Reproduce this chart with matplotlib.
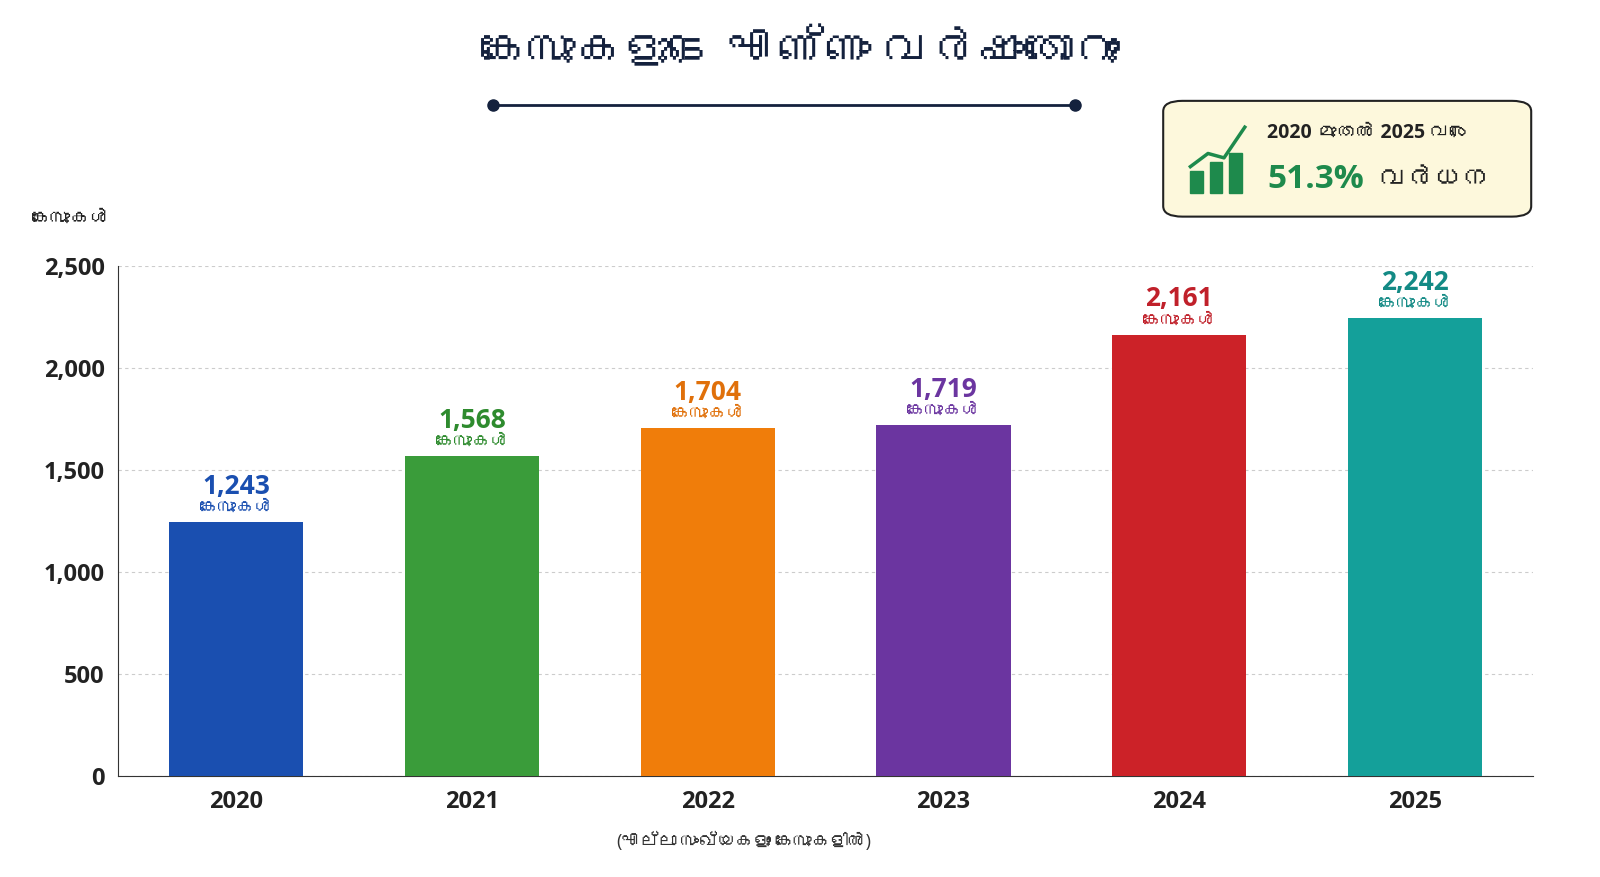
import matplotlib.pyplot as plt
from matplotlib.patches import FancyBboxPatch
from matplotlib import font_manager
from matplotlib.ft2font import FT2Font
import numpy as np

years = ["2020", "2021", "2022", "2023", "2024", "2025"]
cases = [1243, 1568, 1704, 1719, 2161, 2242]
colors = ["#1a4fb0", "#3a9c3a", "#f07d0a", "#6b35a0", "#cc2228", "#14a09a"]
label_colors = ["#1a4fb0", "#2e8b2e", "#e0700a", "#6b35a0", "#c0202a", "#138a85"]
yticks = [0, 500, 1000, 1500, 2000, 2500]

# look for any installed family that covers Malayalam
families = []
for f in font_manager.fontManager.ttflist:
    try:
        cmap = FT2Font(f.fname).get_charmap()
    except Exception:
        continue
    if ord('ക') in cmap and f.name not in families:
        families.append(f.name)

plt.rcParams['font.family'] = ['Open Sans'] + families + ['Noto Sans', 'DejaVu Sans']

fig = plt.figure(figsize=(16, 8.77), dpi=100)
ax = fig.add_axes([0.074, 0.115, 0.884, 0.582])
x = np.arange(len(years))
ax.bar(x, cases, width=0.57, color=colors, zorder=3)
ax.set_xlim(-0.5, 5.5)
ax.set_ylim(0, 2500)
ax.set_yticks(yticks)
ax.set_yticklabels([f"{v:,}" for v in yticks], fontsize=17, fontweight='bold', color='#222')
ax.set_xticks(x)
ax.set_xticklabels(years, fontsize=17, fontweight='bold', color='#222')
ax.tick_params(length=0, pad=10)
ax.grid(axis='y', linestyle=(0, (3, 3)), color='#cccccc', zorder=0)
for s in ['top', 'right']:
    ax.spines[s].set_visible(False)
ax.spines['left'].set_color('#333')
ax.spines['bottom'].set_color('#333')

for xi, v, c in zip(x, cases, label_colors):
    ax.text(xi, v + 110, f"{v:,}", ha='center', va='bottom', fontsize=19, fontweight='bold', color=c, clip_on=False)
    ax.text(xi, v + 25, "കേസുകൾ", ha='center', va='bottom', fontsize=13, fontweight='bold', color=c, clip_on=False)

fig.text(0.02, 0.745, "കേസുകൾ", fontsize=14, fontweight='bold', color='#222')
fig.text(0.5, 0.94, "കേസുകളുടെ എണ്ണം വർഷംതോറും", ha='center', va='center', fontsize=34, fontweight='bold', color='#14213d')
fig.add_artist(plt.Line2D([0.308, 0.672], [0.88, 0.88], color='#14213d', lw=2))
fig.add_artist(plt.Line2D([0.308, 0.672], [0.88, 0.88], ls='none', marker='o', ms=8, color='#14213d'))
fig.text(0.465, 0.04, "(എല്ലാ സംഖ്യകളും കേസുകളിൽ)", ha='center', va='center', fontsize=13, color='#333')

box = FancyBboxPatch((0.727, 0.753), 0.23, 0.132, boxstyle="round,pad=0,rounding_size=0.012",
                     transform=fig.transFigure, facecolor='#fdf8dc', edgecolor='#222', lw=1.5)
fig.add_artist(box)
for i, h in enumerate([0.025, 0.035, 0.045]):
    fig.add_artist(plt.Rectangle((0.744 + i * 0.012, 0.78), 0.008, h, transform=fig.transFigure, color='#1e8a4c'))
fig.add_artist(plt.Line2D([0.744, 0.755, 0.765, 0.778], [0.81, 0.825, 0.82, 0.855], color='#1e8a4c', lw=2.5))
fig.text(0.792, 0.848, "2020 മുതൽ 2025 വരെ", fontsize=14, fontweight='bold', color='#222', va='center')
fig.text(0.792, 0.795, "51.3%", fontsize=24, fontweight='bold', color='#1e8a4c', va='center')
fig.text(0.862, 0.795, "വർധന", fontsize=20, fontweight='bold', color='#222', va='center')

fig.savefig("out.png", dpi=100, facecolor='white')
